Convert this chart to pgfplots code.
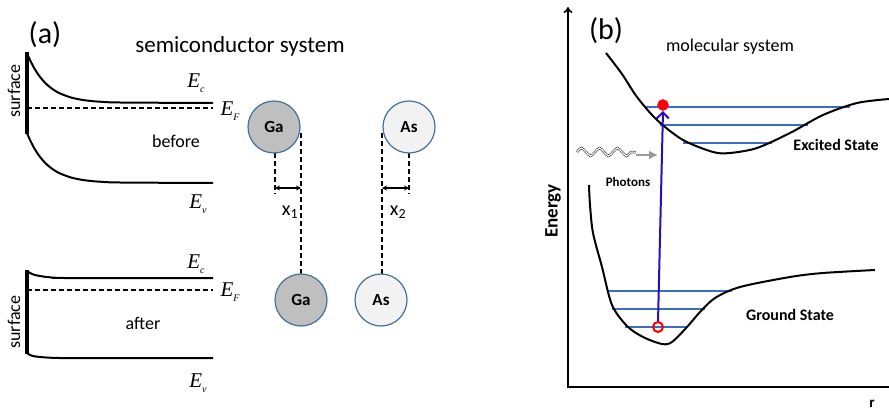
\documentclass[border=0pt]{standalone}
\usepackage{pgfplots}
\pgfplotsset{compat=1.18}
\usepackage{fontspec}
\setmainfont{Carlito}
\newfontfamily\tnr{Liberation Serif}
\usetikzlibrary{arrows.meta}
\definecolor{gagray}{HTML}{BFBFBF}
\definecolor{asgray}{HTML}{F2F2F2}
\definecolor{atomedge}{HTML}{41719C}
\definecolor{vibblue}{HTML}{3A6CC8}
\definecolor{trans}{HTML}{2A0CC0}
\newcommand{\fs}[1]{\fontsize{#1}{#1}\selectfont}
\newcommand{\En}[1]{{\tnr\itshape E}\raisebox{-0.45ex}{\tnr\itshape\fs{10}#1}}
\begin{document}
\begin{tikzpicture}
\begin{axis}[
  scale only axis, width=889pt, height=415pt,
  xmin=0, xmax=889, ymin=0, ymax=415, y dir=reverse,
  hide axis, clip=false,
]
% ---------- panel (a): band diagrams ----------
% before
\addplot[black, line width=3.5pt] coordinates {(27,52) (27,134)};
\addplot[black, line width=2pt, smooth] coordinates {(27,53) (30,60) (35,69.5) (40,76.9) (45,82.7) (50,87.2) (55,90.7) (60,93.4) (70,97.2) (80,99.5) (90,100.9) (100,101.7) (120,102.5) (213,103)};
\addplot[black, line width=2pt, smooth] coordinates {(27,133) (30,140) (35,149.5) (40,156.9) (45,162.7) (50,167.2) (55,170.7) (60,173.4) (70,177.2) (80,179.5) (90,180.9) (100,181.7) (120,182.5) (213,183)};
\addplot[black, line width=1.2pt, dash pattern=on 5pt off 3pt] coordinates {(27,108) (213,108)};
% after
\addplot[black, line width=3.5pt] coordinates {(27,270) (27,354)};
\addplot[black, line width=2pt, smooth] coordinates {(27,271) (30,273) (35,275) (45,276.8) (55,277.7) (65,278) (213,278)};
\addplot[black, line width=2pt, smooth] coordinates {(27,353) (30,355) (35,356.4) (45,357.4) (55,357.9) (65,358) (213,358)};
\addplot[black, line width=1.2pt, dash pattern=on 5pt off 3pt] coordinates {(27,290) (213,290)};

\node[font=\fs{30}] at (axis cs:45,35) {(a)};
\node[font=\fs{23}] at (axis cs:240,46) {semiconductor system};
\node[font=\fs{18}, rotate=90] at (axis cs:14,91) {surface};
\node[font=\fs{18}, rotate=90] at (axis cs:14,322) {surface};
\node[font=\fs{18}] at (axis cs:176,141) {before};
\node[font=\fs{18}] at (axis cs:143,323) {after};
\node[font=\fs{21}] at (axis cs:196,83) {\En{c}};
\node[font=\fs{21}] at (axis cs:230,111) {\En{F}};
\node[font=\fs{21}] at (axis cs:198,204) {\En{v}};
\node[font=\fs{21}] at (axis cs:196,264) {\En{c}};
\node[font=\fs{21}] at (axis cs:230,292) {\En{F}};
\node[font=\fs{21}] at (axis cs:198,383) {\En{v}};

% ---------- atoms ----------
\addplot[black, line width=1.3pt, dash pattern=on 5pt off 3pt] coordinates {(275,153) (275,194)};
\addplot[black, line width=1.3pt, dash pattern=on 5pt off 3pt] coordinates {(301,133) (301,274)};
\addplot[black, line width=1.3pt, dash pattern=on 5pt off 3pt] coordinates {(382,133) (382,274)};
\addplot[black, line width=1.3pt, dash pattern=on 5pt off 3pt] coordinates {(409,153) (409,194)};
\addplot[black, line width=1.3pt, {Stealth[length=5pt,width=5pt]}-{Stealth[length=5pt,width=5pt]}] coordinates {(275,188) (301,188)};
\addplot[black, line width=1.3pt, {Stealth[length=5pt,width=5pt]}-{Stealth[length=5pt,width=5pt]}] coordinates {(382,188) (409,188)};
\addplot[only marks, mark=*, mark size=26, mark options={fill=gagray, draw=atomedge, line width=1.2pt},
  nodes near coords={Ga}, nodes near coords align=center,
  every node near coord/.style={font=\fs{17}\bfseries, anchor=center, black}] coordinates {(274,127) (301,300)};
\addplot[only marks, mark=*, mark size=26, mark options={fill=asgray, draw=atomedge, line width=1.2pt},
  nodes near coords={As}, nodes near coords align=center,
  every node near coord/.style={font=\fs{17}\bfseries, anchor=center, black}] coordinates {(409,127) (381,300)};
\node[font=\fs{20}] at (axis cs:290,212) {x\textsubscript{1}};
\node[font=\fs{20}] at (axis cs:398,212) {x\textsubscript{2}};

% ---------- panel (b) ----------
\addplot[black, line width=1.6pt, -{To[length=6pt,width=9pt]}] coordinates {(568,387) (568,7)};
\addplot[black, line width=1.6pt] coordinates {(567,387) (889,387)};
\node[font=\fs{30}] at (axis cs:606,31) {(b)};
\node[font=\fs{18}] at (axis cs:730,47) {molecular system};
\node[font=\fs{19}\bfseries, rotate=90] at (axis cs:553,211) {Energy};
\node[font=\fs{15}\bfseries] at (axis cs:872,404) {r};

% vibrational levels
\addplot[color=vibblue, line width=1.2pt] coordinates {(645,107) (850,107)};
\addplot[color=vibblue, line width=1.2pt] coordinates {(660,125) (808,125)};
\addplot[color=vibblue, line width=1.2pt] coordinates {(683,143) (772,143)};
\addplot[color=vibblue, line width=1.2pt] coordinates {(607,291) (732,291)};
\addplot[color=vibblue, line width=1.2pt] coordinates {(612,309) (705,309)};
\addplot[color=vibblue, line width=1.2pt] coordinates {(625,327) (688,327)};

% potential curves
\addplot[black, line width=2pt, smooth] coordinates {(606,53) (622,74) (637,97) (657,120) (683,140) (713,152) (730,153) (757,148) (790,133) (823,115) (857,103) (889,99)};
\addplot[black, line width=2pt, smooth] coordinates {(589,185) (590,205) (593,233) (602,267) (612,305) (627,326) (643,337) (662,344) (672,342) (687,327) (700,312) (715,298) (740,287) (790,277) (823,273) (875,270)};

% transition
\addplot[trans, line width=2pt, -{Straight Barb[length=6pt,width=12pt,line width=2pt]}] coordinates {(658,322) (663,111)};
\addplot[only marks, mark=*, mark size=5.5, red] coordinates {(663,105)};
\addplot[only marks, mark=o, mark size=5, mark options={draw=red, line width=2pt, fill=white}] coordinates {(658,327)};

% photons
\addplot[black, smooth, line width=0.5pt, double, double distance=1.3pt] coordinates {(577,152) (581.5,148) (586,152) (590.5,156) (595,152) (599.5,148) (604,152) (608.5,156) (613,152) (617.5,148) (622,152) (626.5,156) (631,152) (635.5,152.5)};
\addplot[gray!80, line width=2.5pt, -{Latex[length=9pt,width=9pt]}] coordinates {(636,155) (658,155)};
\node[font=\fs{13}\bfseries] at (axis cs:628,182) {Photons};
\node[font=\fs{16}\bfseries] at (axis cs:836,145) {Excited State};
\node[font=\fs{16}\bfseries] at (axis cs:790,315) {Ground State};
\end{axis}
\pgfresetboundingbox
\path (current axis.south west) rectangle (current axis.north east);
\end{tikzpicture}
\end{document}
